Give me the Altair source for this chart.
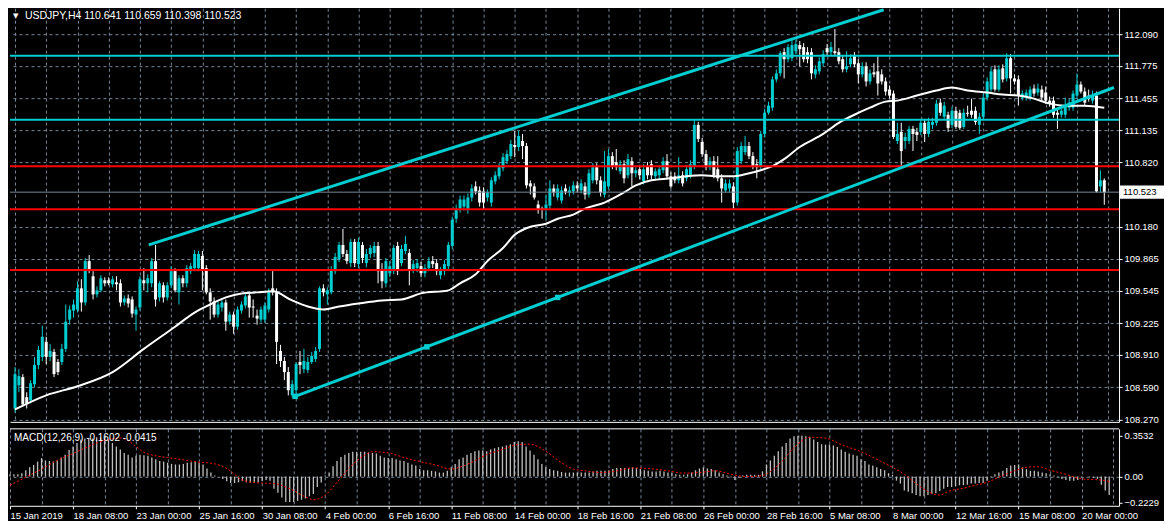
import json
import altair as alt
import pandas as pd

SYMBOL = "USDJPY"
TIMEFRAME = "H4"

OPEN = [
    108.38, 108.61, 108.69, 108.49, 108.46, 108.62, 108.81, 108.89, 109.04, 108.89,
    108.94, 108.84, 108.84, 108.97, 109.26, 109.35, 109.36, 109.57, 109.43, 109.84,
    109.69, 109.51, 109.55, 109.65, 109.65, 109.61, 109.63, 109.62, 109.43, 109.47,
    109.46, 109.31, 109.38, 109.65, 109.62, 109.62, 109.84, 109.48, 109.60, 109.48,
    109.60, 109.74, 109.53, 109.67, 109.62, 109.74, 109.77, 109.77, 109.89, 109.77,
    109.53, 109.44, 109.31, 109.38, 109.43, 109.24, 109.31, 109.19, 109.35, 109.40,
    109.50, 109.39, 109.30, 109.26, 109.26, 109.36, 109.57, 109.53, 108.95, 108.85,
    108.74, 108.51, 108.56, 108.84, 108.77, 108.76, 108.84, 108.87, 108.97, 109.57,
    109.51, 109.53, 109.74, 109.86, 110.00, 109.91, 109.82, 110.03, 109.81, 110.00,
    109.82, 109.91, 109.92, 109.99, 109.76, 109.62, 109.72, 109.74, 109.99, 109.82,
    109.94, 109.92, 109.76, 109.77, 109.79, 109.72, 109.77, 109.84, 109.82, 109.70,
    109.74, 109.79, 109.99, 110.26, 110.36, 110.38, 110.35, 110.47, 110.58, 110.54,
    110.53, 110.47, 110.42, 110.63, 110.68, 110.76, 110.83, 110.88, 110.99, 110.97,
    111.03, 110.98, 110.61, 110.58, 110.40, 110.36, 110.35, 110.39, 110.56, 110.47,
    110.44, 110.56, 110.52, 110.53, 110.59, 110.54, 110.58, 110.50, 110.64, 110.77,
    110.64, 110.50, 110.58, 110.88, 110.82, 110.73, 110.80, 110.69, 110.83, 110.71,
    110.75, 110.63, 110.78, 110.80, 110.68, 110.69, 110.74, 110.83, 110.68, 110.68,
    110.64, 110.69, 110.66, 110.69, 110.78, 111.19, 111.02, 110.90, 110.77, 110.83,
    110.75, 110.66, 110.54, 110.56, 110.58, 110.42, 110.83, 110.92, 110.98, 110.88,
    110.80, 110.78, 111.10, 111.31, 111.36, 111.64, 111.70, 111.91, 111.84, 111.85,
    111.92, 111.98, 111.96, 111.91, 111.91, 111.69, 111.72, 111.80, 111.95, 111.91,
    111.92, 111.91, 111.84, 111.74, 111.79, 111.87, 111.80, 111.69, 111.77, 111.62,
    111.71, 111.72, 111.69, 111.62, 111.54, 111.50, 111.03, 111.12, 111.03, 111.03,
    111.15, 111.12, 111.12, 111.21, 111.10, 111.19, 111.21, 111.41, 111.27, 111.29,
    111.19, 111.33, 111.31, 111.17, 111.31, 111.33, 111.33, 111.19, 111.27, 111.46,
    111.54, 111.74, 111.54, 111.75, 111.65, 111.85, 111.65, 111.64, 111.46, 111.46,
    111.46, 111.55, 111.51, 111.54, 111.51, 111.43, 111.43, 111.31, 111.29, 111.29,
    111.36, 111.36, 111.48, 111.59, 111.52, 111.48, 111.43, 111.48, 110.58, 110.641,
]
HIGH = [
    108.79, 108.77, 108.72, 108.54, 108.66, 108.89, 109.00, 109.20, 109.09, 109.02,
    108.97, 108.87, 109.02, 109.41, 109.40, 109.46, 109.64, 109.66, 109.87, 109.90,
    109.74, 109.59, 109.70, 109.68, 109.68, 109.69, 109.69, 109.66, 109.50, 109.51,
    109.49, 109.39, 109.69, 109.77, 109.71, 109.87, 110.00, 109.64, 109.63, 109.63,
    109.79, 109.77, 109.70, 109.70, 109.80, 109.82, 109.95, 109.94, 109.94, 109.80,
    109.57, 109.48, 109.44, 109.46, 109.46, 109.34, 109.34, 109.39, 109.44, 109.52,
    109.53, 109.46, 109.36, 109.39, 109.43, 109.57, 109.74, 109.57, 109.01, 108.89,
    108.79, 108.66, 108.84, 108.95, 108.97, 108.89, 108.94, 108.99, 109.59, 109.61,
    109.58, 109.79, 109.92, 110.03, 110.16, 109.95, 110.06, 110.06, 110.07, 110.03,
    109.96, 110.00, 110.03, 110.03, 109.82, 109.87, 109.84, 110.00, 110.03, 110.00,
    110.09, 109.96, 109.85, 109.86, 109.83, 109.81, 109.88, 109.89, 109.86, 109.78,
    109.85, 110.03, 110.28, 110.40, 110.49, 110.49, 110.51, 110.60, 110.63, 110.58,
    110.57, 110.55, 110.67, 110.73, 110.81, 110.91, 110.94, 111.04, 111.13, 111.13,
    111.10, 111.01, 110.64, 110.61, 110.44, 110.38, 110.49, 110.64, 110.60, 110.60,
    110.58, 110.60, 110.58, 110.63, 110.63, 110.65, 110.62, 110.75, 110.81, 110.81,
    110.68, 110.93, 110.95, 110.92, 110.95, 110.84, 110.84, 110.90, 110.87, 110.77,
    110.79, 110.80, 110.82, 110.84, 110.76, 110.79, 110.87, 110.90, 110.72, 110.72,
    110.87, 110.73, 110.79, 110.84, 111.24, 111.22, 111.06, 110.94, 110.87, 110.88,
    110.88, 110.70, 110.65, 110.65, 110.62, 110.97, 111.02, 111.08, 111.02, 110.92,
    110.85, 111.13, 111.35, 111.42, 111.67, 111.74, 111.92, 111.95, 111.99, 112.03,
    112.03, 112.02, 112.00, 111.96, 111.95, 111.78, 111.86, 111.93, 111.99, 112.01,
    112.14, 111.95, 111.88, 111.92, 111.89, 111.91, 111.84, 111.81, 111.81, 111.74,
    111.80, 111.87, 111.74, 111.66, 111.58, 111.53, 111.21, 111.21, 111.11, 111.18,
    111.18, 111.16, 111.25, 111.25, 111.26, 111.26, 111.44, 111.45, 111.42, 111.32,
    111.37, 111.37, 111.34, 111.35, 111.38, 111.45, 111.37, 111.31, 111.50, 111.66,
    111.76, 111.78, 111.78, 111.79, 111.90, 111.89, 111.69, 111.68, 111.53, 111.54,
    111.57, 111.59, 111.60, 111.58, 111.57, 111.47, 111.47, 111.34, 111.37, 111.46,
    111.45, 111.53, 111.70, 111.62, 111.56, 111.54, 111.53, 111.52, 110.74, 110.659,
]
LOW = [
    108.34, 108.54, 108.40, 108.38, 108.43, 108.59, 108.77, 108.85, 108.82, 108.85,
    108.69, 108.71, 108.81, 108.94, 109.21, 109.28, 109.33, 109.34, 109.40, 109.72,
    109.46, 109.48, 109.53, 109.59, 109.60, 109.58, 109.55, 109.39, 109.40, 109.38,
    109.28, 109.15, 109.35, 109.55, 109.53, 109.58, 109.39, 109.44, 109.43, 109.45,
    109.57, 109.53, 109.41, 109.58, 109.58, 109.71, 109.74, 109.74, 109.55, 109.51,
    109.26, 109.28, 109.28, 109.34, 109.15, 109.21, 109.12, 109.16, 109.32, 109.37,
    109.28, 109.28, 109.21, 109.23, 109.23, 109.33, 109.50, 108.82, 108.79, 108.66,
    108.51, 108.49, 108.53, 108.72, 108.73, 108.73, 108.82, 108.84, 108.94, 109.49,
    109.41, 109.51, 109.71, 109.83, 109.88, 109.81, 109.78, 109.78, 109.77, 109.82,
    109.78, 109.87, 109.88, 109.62, 109.57, 109.58, 109.68, 109.71, 109.70, 109.79,
    109.91, 109.60, 109.72, 109.73, 109.68, 109.68, 109.74, 109.77, 109.70, 109.66,
    109.70, 109.76, 109.96, 110.22, 110.32, 110.34, 110.31, 110.43, 110.50, 110.38,
    110.35, 110.43, 110.38, 110.60, 110.65, 110.73, 110.80, 110.85, 110.87, 110.93,
    110.85, 110.56, 110.50, 110.45, 110.31, 110.26, 110.25, 110.36, 110.48, 110.44,
    110.41, 110.50, 110.48, 110.50, 110.52, 110.51, 110.45, 110.47, 110.61, 110.60,
    110.48, 110.47, 110.55, 110.75, 110.74, 110.70, 110.61, 110.66, 110.58, 110.67,
    110.65, 110.60, 110.65, 110.65, 110.64, 110.65, 110.71, 110.65, 110.56, 110.61,
    110.61, 110.58, 110.63, 110.66, 110.75, 111.02, 110.87, 110.74, 110.74, 110.66,
    110.63, 110.42, 110.52, 110.52, 110.36, 110.39, 110.80, 110.89, 110.85, 110.75,
    110.66, 110.75, 111.07, 111.29, 111.33, 111.61, 111.67, 111.65, 111.81, 111.82,
    111.89, 111.77, 111.81, 111.80, 111.64, 111.65, 111.69, 111.77, 111.88, 111.88,
    111.87, 111.79, 111.71, 111.71, 111.76, 111.76, 111.60, 111.66, 111.57, 111.59,
    111.66, 111.48, 111.59, 111.48, 111.45, 111.05, 111.00, 110.78, 110.95, 111.00,
    110.93, 111.03, 111.09, 111.02, 111.07, 111.15, 111.18, 111.28, 111.24, 111.12,
    111.16, 111.15, 111.14, 111.15, 111.27, 111.26, 111.19, 111.10, 111.24, 111.43,
    111.52, 111.52, 111.52, 111.61, 111.62, 111.50, 111.59, 111.38, 111.43, 111.43,
    111.43, 111.47, 111.48, 111.43, 111.40, 111.37, 111.26, 111.15, 111.26, 111.26,
    111.33, 111.33, 111.45, 111.50, 111.38, 111.42, 111.40, 110.52, 110.52, 110.398,
]
CLOSE = [
    108.72, 108.70, 108.42, 108.43, 108.63, 108.81, 108.96, 109.09, 108.89, 108.95,
    108.72, 108.74, 108.97, 109.24, 109.36, 109.41, 109.57, 109.43, 109.84, 109.76,
    109.51, 109.55, 109.67, 109.62, 109.62, 109.66, 109.61, 109.43, 109.47, 109.42,
    109.32, 109.36, 109.66, 109.62, 109.67, 109.84, 109.46, 109.62, 109.48, 109.60,
    109.74, 109.55, 109.67, 109.62, 109.77, 109.79, 109.91, 109.91, 109.76, 109.53,
    109.44, 109.31, 109.41, 109.43, 109.24, 109.31, 109.19, 109.36, 109.41, 109.49,
    109.38, 109.38, 109.27, 109.36, 109.40, 109.53, 109.53, 109.04, 108.85, 108.74,
    108.56, 108.62, 108.82, 108.81, 108.85, 108.84, 108.90, 108.95, 109.57, 109.53,
    109.55, 109.76, 109.88, 110.00, 109.91, 109.84, 110.03, 109.82, 110.03, 109.87,
    109.91, 109.97, 109.99, 109.74, 109.64, 109.84, 109.79, 109.97, 109.74, 109.96,
    110.01, 109.76, 109.81, 109.82, 109.72, 109.77, 109.84, 109.81, 109.74, 109.75,
    109.81, 110.00, 110.25, 110.36, 110.45, 110.45, 110.47, 110.56, 110.53, 110.42,
    110.42, 110.52, 110.64, 110.69, 110.77, 110.87, 110.90, 111.00, 110.97, 111.08,
    110.98, 110.59, 110.58, 110.47, 110.35, 110.35, 110.40, 110.56, 110.52, 110.56,
    110.54, 110.53, 110.54, 110.59, 110.56, 110.61, 110.50, 110.71, 110.77, 110.64,
    110.52, 110.63, 110.88, 110.78, 110.77, 110.80, 110.66, 110.85, 110.71, 110.74,
    110.69, 110.75, 110.69, 110.69, 110.73, 110.75, 110.83, 110.68, 110.58, 110.64,
    110.69, 110.61, 110.75, 110.80, 111.19, 111.05, 110.90, 110.77, 110.83, 110.69,
    110.66, 110.56, 110.61, 110.61, 110.42, 110.93, 110.98, 110.98, 110.88, 110.78,
    110.77, 111.10, 111.31, 111.38, 111.64, 111.70, 111.90, 111.84, 111.96, 111.98,
    111.99, 111.94, 111.84, 111.84, 111.70, 111.74, 111.82, 111.89, 111.91, 111.96,
    111.90, 111.82, 111.74, 111.77, 111.85, 111.79, 111.69, 111.77, 111.62, 111.70,
    111.69, 111.60, 111.62, 111.52, 111.48, 111.07, 111.10, 110.93, 111.07, 111.15,
    111.10, 111.09, 111.21, 111.10, 111.22, 111.22, 111.40, 111.31, 111.38, 111.16,
    111.33, 111.17, 111.16, 111.31, 111.30, 111.29, 111.22, 111.27, 111.46, 111.62,
    111.72, 111.54, 111.74, 111.64, 111.85, 111.65, 111.62, 111.48, 111.50, 111.51,
    111.54, 111.50, 111.55, 111.46, 111.43, 111.40, 111.29, 111.29, 111.33, 111.38,
    111.41, 111.50, 111.59, 111.52, 111.41, 111.45, 111.48, 110.53, 110.64, 110.523,
]

MA_BARS = [0, 8, 16, 25, 33, 41, 46, 50, 54, 58, 62, 66, 71, 75, 79, 83, 88, 94, 99, 104,
           111, 114, 118, 121, 125, 128, 132, 136, 139, 143, 146, 151, 156, 159, 163, 168,
           172, 176, 180, 184, 187, 191, 194, 197, 201, 207, 211, 215, 219, 223, 226, 231,
           236, 240, 244, 249, 253, 257, 261, 265, 269, 274, 279]
MA_VALUES = [108.37, 108.51, 108.60, 108.74, 108.97, 109.19, 109.33, 109.41, 109.48, 109.52,
             109.53, 109.54, 109.45, 109.39, 109.36, 109.39, 109.42, 109.45, 109.46, 109.52,
             109.55, 109.62, 109.71, 109.84, 109.97, 110.10, 110.18, 110.21, 110.26, 110.30,
             110.36, 110.42, 110.52, 110.59, 110.64, 110.66, 110.68, 110.69, 110.68, 110.68,
             110.70, 110.74, 110.78, 110.85, 110.97, 111.10, 111.21, 111.29, 111.36, 111.42,
             111.43, 111.48, 111.53, 111.56, 111.53, 111.51, 111.49, 111.48, 111.45, 111.40,
             111.38, 111.38, 111.36]

MACD_MAIN = [
    0.02, 0.02, 0.02, 0.03, 0.055, 0.08, 0.10, 0.13, 0.16, 0.14,
    0.135, 0.13, 0.14, 0.165, 0.19, 0.23, 0.26, 0.29, 0.32, 0.33,
    0.33, 0.33, 0.34, 0.34, 0.33, 0.32, 0.29, 0.26, 0.235, 0.205,
    0.19, 0.165, 0.18, 0.19, 0.185, 0.18, 0.165, 0.15, 0.135, 0.13,
    0.12, 0.11, 0.105, 0.105, 0.11, 0.12, 0.125, 0.13, 0.12, 0.105,
    0.07, 0.035, 0.01, 0.0, -0.02, -0.04, -0.055, -0.055, -0.05, -0.04,
    -0.05, -0.055, -0.055, -0.05, -0.04, -0.03, -0.035, -0.105, -0.14, -0.18,
    -0.22, -0.22, -0.22, -0.21, -0.20, -0.19, -0.17, -0.15, -0.09, -0.05,
    0.01, 0.035, 0.09, 0.135, 0.17, 0.19, 0.205, 0.215, 0.215, 0.215,
    0.215, 0.21, 0.205, 0.20, 0.18, 0.165, 0.16, 0.16, 0.15, 0.14,
    0.135, 0.12, 0.105, 0.095, 0.065, 0.055, 0.055, 0.05, 0.045, 0.035,
    0.035, 0.05, 0.08, 0.11, 0.15, 0.165, 0.19, 0.205, 0.22, 0.225,
    0.225, 0.22, 0.235, 0.245, 0.255, 0.26, 0.27, 0.28, 0.30, 0.305,
    0.30, 0.26, 0.225, 0.19, 0.15, 0.11, 0.08, 0.065, 0.055, 0.05,
    0.04, 0.035, 0.035, 0.035, 0.035, 0.035, 0.035, 0.035, 0.045, 0.05,
    0.05, 0.05, 0.055, 0.065, 0.075, 0.075, 0.075, 0.075, 0.08, 0.075,
    0.065, 0.055, 0.05, 0.045, 0.045, 0.05, 0.045, 0.035, 0.03, 0.02,
    0.015, 0.015, 0.02, 0.035, 0.055, 0.07, 0.08, 0.07, 0.065, 0.055,
    0.035, 0.02, 0.01, -0.005, -0.03, -0.01, 0.01, 0.015, 0.015, 0.015,
    0.015, 0.045, 0.105, 0.14, 0.18, 0.22, 0.26, 0.29, 0.33, 0.35,
    0.353, 0.353, 0.35, 0.345, 0.32, 0.30, 0.28, 0.277, 0.277, 0.27,
    0.255, 0.235, 0.215, 0.20, 0.19, 0.18, 0.15, 0.135, 0.105, 0.095,
    0.08, 0.065, 0.055, 0.03, 0.015, -0.035, -0.06, -0.12, -0.13, -0.145,
    -0.16, -0.17, -0.17, -0.16, -0.15, -0.145, -0.125, -0.105, -0.09, -0.09,
    -0.085, -0.075, -0.075, -0.07, -0.06, -0.06, -0.055, -0.055, -0.035, -0.005,
    0.02, 0.035, 0.05, 0.075, 0.095, 0.10, 0.105, 0.08, 0.065, 0.05,
    0.05, 0.045, 0.035, 0.03, 0.02, 0.01, -0.005, -0.02, -0.03, -0.035,
    -0.035, -0.03, -0.005, 0.0, -0.005, -0.01, -0.02, -0.07, -0.12, -0.1602,
]
SIGNAL_BARS = [0, 4, 8, 12, 17, 21, 25, 28, 30, 32, 34, 37, 40, 44, 48, 50, 52, 55, 57, 59,
               63, 67, 71, 75, 77, 80, 83, 87, 90, 92, 96, 100, 104, 108, 112, 114, 117, 121,
               125, 129, 132, 134, 136, 140, 143, 146, 150, 154, 158, 162, 167, 171, 175, 179,
               183, 187, 191, 194, 196, 199, 203, 207, 211, 216, 220, 224, 227, 230, 233, 236,
               238, 242, 245, 248, 251, 255, 258, 261, 264, 268, 272, 277, 279]
SIGNAL_VALUES = [-0.075, -0.005, 0.065, 0.14, 0.215, 0.277, 0.32, 0.333, 0.31, 0.26, 0.21,
                 0.18, 0.165, 0.145, 0.125, 0.12, 0.11, 0.07, 0.02, -0.03, -0.055, -0.06,
                 -0.105, -0.175, -0.2, -0.16, -0.05, 0.105, 0.185, 0.215, 0.205, 0.165, 0.13,
                 0.10, 0.065, 0.08, 0.12, 0.19, 0.235, 0.277, 0.28, 0.26, 0.22, 0.12, 0.065,
                 0.05, 0.035, 0.05, 0.075, 0.07, 0.05, 0.03, 0.035, 0.05, 0.02, 0.0, 0.01,
                 0.07, 0.135, 0.25, 0.34, 0.333, 0.277, 0.215, 0.15, 0.08, 0.02, -0.06,
                 -0.13, -0.16, -0.13, -0.10, -0.075, -0.05, -0.005, 0.05, 0.08, 0.085, 0.055,
                 0.02, -0.02, -0.03, -0.0415]

PRICE_TICKS = [112.090, 111.775, 111.455, 111.135, 110.820, 110.180, 109.865,
               109.545, 109.225, 108.910, 108.590, 108.270]
MACD_TICKS = [0.3532, 0.0, -0.2229]
DATE_LABELS = ["15 Jan 2019", "18 Jan 08:00", "23 Jan 00:00", "25 Jan 16:00",
               "30 Jan 08:00", "4 Feb 00:00", "6 Feb 16:00", "11 Feb 08:00",
               "14 Feb 00:00", "18 Feb 16:00", "21 Feb 08:00", "26 Feb 00:00",
               "28 Feb 16:00", "5 Mar 08:00", "8 Mar 00:00", "12 Mar 16:00",
               "15 Mar 08:00", "20 Mar 00:00"]
CYAN_LEVELS = [111.875, 111.241]
RED_LEVELS = [110.779, 110.354, 109.752]
CHANNEL_ID = ["upper", "upper", "lower", "lower"]
CHANNEL_BARS = [34.25, 222.5, 71.75, 281.5]
CHANNEL_PRICES = [110.00, 112.33, 108.50, 111.56]
ANCHOR_BARS = [71.75, 105.5, 139.0]
ANCHOR_PRICES = [108.50, 108.99, 109.48]

# ---------------- layout / style ----------------
W, H1, H2 = 1110, 414, 77
CYAN = "#00CED1"
RED = "#FF0000"
GRID = "#778899"
FONT = "Liberation Sans"
FS = 9.5
FS_TITLE = 10.5
X_MAX = 281.5
N = len(CLOSE)

xscale = alt.Scale(domain=[0, X_MAX], nice=False, zero=False)
yscale = alt.Scale(domain=[108.247, 112.3455], nice=False, zero=False)
mscale = alt.Scale(domain=[-0.2525, 0.413], nice=False, zero=False)

grid_bars = list(range(0, 281, 8))
x_axis_main = alt.Axis(values=grid_bars, grid=True, gridColor=GRID, gridDash=[3, 3],
                       labels=False, ticks=False, domainColor="white", title=None)
y_axis_main = alt.Axis(values=PRICE_TICKS, format=".3f", orient="right", grid=True,
                       gridColor=GRID, gridDash=[3, 3], tickColor="white", tickSize=3,
                       labelPadding=2, domainColor="white", title=None,
                       labelOverlap=False, labelFlush=False)

label_expr = ("datum.value % 16 === 0 ? " + json.dumps(DATE_LABELS) +
              "[datum.value / 16] : ''")
x_axis_macd = alt.Axis(values=grid_bars, grid=True, gridColor=GRID, gridDash=[3, 3],
                       labelExpr=label_expr, labelAlign="left", labelFlush=False,
                       labelOverlap=False, labelPadding=2, tickSize=3, tickColor="white",
                       tickOpacity={"condition": {"test": "datum.value % 16 === 0", "value": 1},
                                    "value": 0},
                       domainColor="white", title=None)
y_axis_macd = alt.Axis(values=MACD_TICKS, orient="right", grid=True, gridColor=GRID,
                       gridDash=[3, 3],
                       gridOpacity={"condition": {"test": "datum.value === 0", "value": 1},
                                    "value": 0},
                       labelExpr="datum.value === 0 ? '0.00' : format(datum.value, '.4f')",
                       tickColor="white", tickSize=3, labelPadding=2, domainColor="white",
                       title=None, labelOverlap=False, labelFlush=False)

X = alt.X("k:Q", scale=xscale, axis=x_axis_main)

# ---------------- data frames ----------------
candles = pd.DataFrame({"k": list(range(N)), "o": OPEN, "h": HIGH, "l": LOW, "c": CLOSE})
candles["d"] = ["up" if c > o else "down" for o, c in zip(OPEN, CLOSE)]
color = alt.Color("d:N", scale=alt.Scale(domain=["up", "down"], range=[CYAN, "white"]),
                  legend=None)

ma = pd.DataFrame({"k": MA_BARS, "p": MA_VALUES})
cyan_lv = pd.DataFrame({"p": CYAN_LEVELS})
red_lv = pd.DataFrame({"p": RED_LEVELS})
last = pd.DataFrame({"p": [CLOSE[-1]], "t": [f"{CLOSE[-1]:.3f}"]})
channel = pd.DataFrame({"id": CHANNEL_ID, "k": CHANNEL_BARS, "p": CHANNEL_PRICES})
anchors = pd.DataFrame({"k": ANCHOR_BARS, "p": ANCHOR_PRICES})
title_txt = (f"{SYMBOL},{TIMEFRAME}  {OPEN[-1]:.3f} {HIGH[-1]:.3f} "
             f"{LOW[-1]:.3f} {CLOSE[-1]:.3f}")
one = pd.DataFrame({"a": [0]})

wicks = alt.Chart(candles).mark_rule(strokeWidth=1).encode(
    x=X, y=alt.Y("l:Q", scale=yscale, axis=y_axis_main), y2="h:Q", color=color)
bodies = alt.Chart(candles).mark_bar(size=3).encode(
    x=X, y=alt.Y("o:Q", scale=yscale, axis=y_axis_main), y2="c:Q", color=color)
Yp = alt.Y("p:Q", scale=yscale, axis=y_axis_main)
ma_line = alt.Chart(ma).mark_line(color="white", strokeWidth=2,
                                  interpolate="monotone").encode(x=X, y=Yp)
last_line = alt.Chart(last).mark_rule(color=GRID, strokeWidth=1).encode(y=Yp)
red_lines = alt.Chart(red_lv).mark_rule(color=RED, strokeWidth=2).encode(y=Yp)
cyan_lines = alt.Chart(cyan_lv).mark_rule(color=CYAN, strokeWidth=2).encode(y=Yp)
chan = alt.Chart(channel).mark_line(color=CYAN, strokeWidth=3, clip=True).encode(
    x=X, y=Yp, detail="id:N")
anch = alt.Chart(anchors).mark_point(shape="square", filled=True, color=CYAN,
                                     size=30, opacity=1).encode(x=X, y=Yp)
box = alt.Chart(last).mark_point(shape="M-1,-0.3L1,-0.3L1,0.3L-1,0.3Z", filled=True,
                                 color="white", size=1936, opacity=1).encode(
    x=alt.value(W + 23), y=Yp)
box_txt = alt.Chart(last).mark_text(align="left", baseline="middle", color="black",
                                    font=FONT, fontSize=FS).encode(
    x=alt.value(W + 4), y=Yp, text="t:N")
tri = alt.Chart(one).mark_text(text="▼", color="white", fontSize=7, align="left",
                               baseline="middle", font="DejaVu Sans").encode(
    x=alt.value(3), y=alt.value(8))
ttl = alt.Chart(one).mark_text(text=title_txt, color="white", fontSize=FS_TITLE,
                               align="left", baseline="middle", font=FONT).encode(
    x=alt.value(15), y=alt.value(8))

main = alt.layer(wicks, bodies, ma_line, last_line, red_lines, cyan_lines, chan, anch,
                 box, box_txt, tri, ttl).properties(width=W, height=H1)

# ---------------- MACD ----------------
hist = pd.DataFrame({"k": list(range(N)), "m": MACD_MAIN, "z": [0.0] * N})
sig = pd.DataFrame({"k": SIGNAL_BARS, "m": SIGNAL_VALUES})
Xm = alt.X("k:Q", scale=xscale, axis=x_axis_macd)
Ym = alt.Y("m:Q", scale=mscale, axis=y_axis_macd)
hist_bars = alt.Chart(hist).mark_rule(color="#C0C0C0", strokeWidth=1.3).encode(
    x=Xm, y=Ym, y2="z:Q")
sig_line = alt.Chart(sig).mark_line(color=RED, strokeWidth=1, strokeDash=[2, 2],
                                    interpolate="monotone").encode(x=Xm, y=Ym)
top_rule = alt.Chart(one).mark_rule(color="white", strokeWidth=1).encode(
    x=alt.value(0), x2=alt.value(W), y=alt.value(0))
macd_txt = (f"MACD(12,26,9) {MACD_MAIN[-1]:.4f} {SIGNAL_VALUES[-1]:.4f}")
macd_lbl = alt.Chart(one).mark_text(text=macd_txt, color="white", fontSize=10,
                                    align="left", baseline="middle", font=FONT).encode(
    x=alt.value(4), y=alt.value(9))
macd = alt.layer(hist_bars, sig_line, top_rule, macd_lbl).properties(width=W, height=H2)

chart = alt.vconcat(main, macd, spacing=3).properties(
    background="black", padding=0
).configure_view(stroke=None).configure_axis(
    labelFont=FONT, labelFontSize=FS, labelColor="white"
)

chart.save("out.html", embed_options={"renderer": "svg", "actions": False})
